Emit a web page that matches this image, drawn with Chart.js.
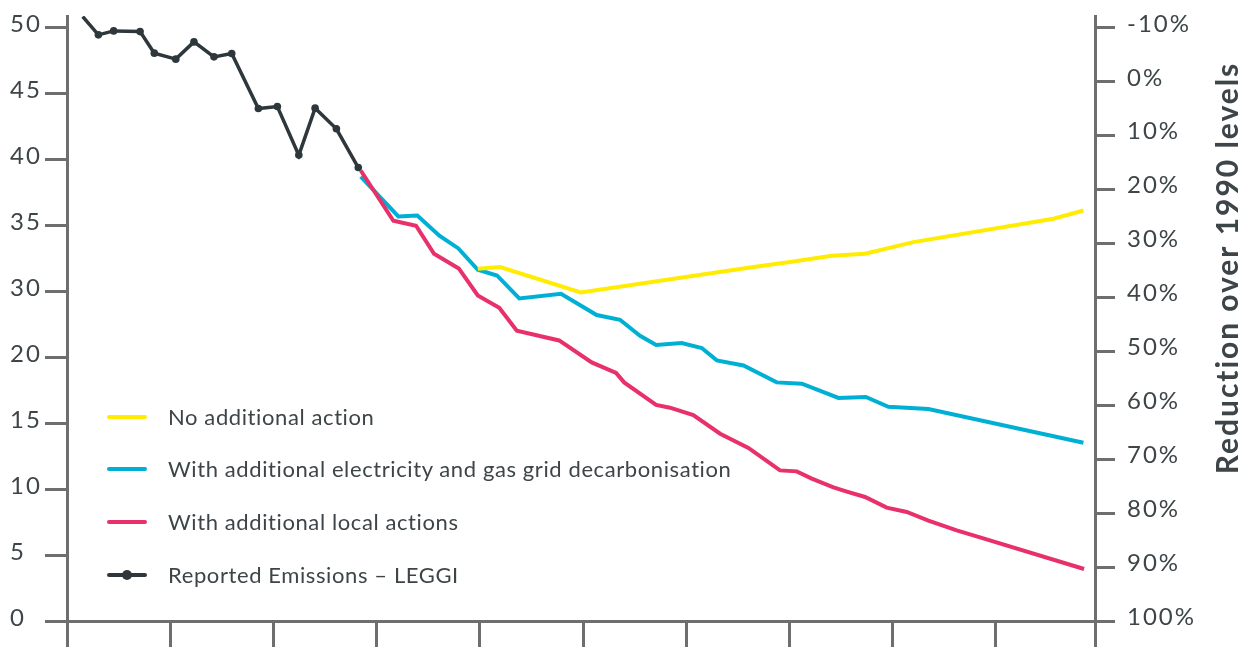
<!DOCTYPE html>
<html lang="en">
<head>
    <meta charset="UTF-8">
    <title>Emissions pathways</title>
    <script src="https://cdn.jsdelivr.net/npm/chart.js@4.4.1/dist/chart.umd.min.js"></script>
    <style>
        html, body { margin: 0; padding: 0; background: #fff; }
        #wrap { position: relative; width: 1251px; height: 647px; }
        #legend {
            position: absolute; left: 107px; top: 0;
            font-family: Lato, sans-serif; font-size: 22px; letter-spacing: 0.6px; color: #3d4548;
        }
        .item { position: absolute; left: 0; height: 30px; line-height: 30px; white-space: nowrap; }
        .swatch { position: absolute; left: 0; top: 13px; width: 40px; height: 4px; border-radius: 2px; }
        .dot { position: absolute; left: 15px; top: 10px; width: 10px; height: 10px; border-radius: 50%; }
        .label { position: absolute; left: 61px; top: 0; }
    </style>
</head>
<body>
<div id="wrap">
    <canvas id="myChart" width="1251" height="647"></canvas>
    <div id="legend"></div>
</div>

<script>
    // reported emissions, % reduction vs 1990
    var reportedYears = [2000.76, 2001.52, 2002.26, 2003.54, 2004.23, 2005.27, 2006.15, 2007.12, 2007.98, 2009.27, 2010.19, 2011.23, 2012.02, 2013.05, 2014.11];
    var reported = [-12.1, -8.7, -9.44, -9.31, -5.31, -4.2, -7.4, -4.62, -5.24, 4.96, 4.59, 13.6, 4.89, 8.72, 15.9];

    var noActionYears = [2019.9, 2020.98, 2024.89, 2033.09, 2035.03, 2037.05, 2038.66, 2041.0, 2047.79, 2049.24];
    var noAction = [34.68, 34.36, 39.07, 34.43, 33.43, 32.27, 31.89, 29.73, 25.41, 23.87];

    var gridYears = [2014.23, 2016.05, 2016.97, 2018.04, 2018.96, 2019.9, 2020.83, 2021.91, 2023.93, 2025.66, 2026.79, 2027.76, 2028.54, 2029.78, 2030.75, 2031.48, 2032.77, 2034.38, 2035.6, 2037.37, 2038.7, 2039.79, 2041.73, 2049.24];
    var gridDecarb = [17.57, 24.98, 24.8, 28.56, 30.91, 34.86, 35.92, 40.18, 39.31, 43.26, 44.13, 47.1, 48.82, 48.45, 49.38, 51.67, 52.6, 55.75, 55.99, 58.64, 58.46, 60.26, 60.68, 66.93];

    var localYears = [2014.23, 2015.81, 2016.91, 2017.78, 2018.98, 2019.9, 2020.94, 2021.79, 2023.84, 2025.42, 2026.6, 2026.99, 2028.54, 2029.21, 2030.34, 2031.64, 2033.01, 2034.54, 2035.35, 2036.08, 2037.13, 2037.78, 2038.66, 2039.71, 2040.68, 2041.73, 2043.1, 2044.23, 2049.27];
    var localActions = [16.45, 25.78, 26.7, 31.89, 34.62, 39.62, 41.9, 46.17, 47.97, 52.05, 54.01, 55.75, 59.94, 60.44, 61.8, 65.26, 67.91, 72.07, 72.25, 73.6, 75.22, 76.01, 77.0, 78.98, 79.78, 81.39, 83.19, 84.49, 90.35];

    var seriesNames = ['No additional action', 'With additional electricity and gas grid decarbonisation', 'With additional local actions', 'Reported Emissions \u2013 LEGGI'];
    var seriesColors = ['#ffec00', '#00b0d4', '#e8306b', '#2e383c'];

    var leftLabels = ['0', '5', '10', '15', '20', '30', '35', '40', '45', '50'];
    var rightTicks = [-10, 0, 10, 20, 30, 40, 50, 60, 70, 80, 90, 100];
    var xTicks = [2000, 2005, 2010, 2015, 2020, 2025, 2030, 2035, 2040, 2045, 2049.8];
    var rightTitle = 'Reduction over 1990 levels';

    var axisGray = '#6e6e6e';
    var textColor = '#3d4548';
    var tickFont = { family: 'Lato', size: 24 };

    function pts(xs, ys) {
        return xs.map(function (x, i) { return { x: x, y: ys[i] }; });
    }

    // legend drawn as html over the plot
    var legend = document.getElementById('legend');
    var legendTops = [416.5, 469.3, 522.3, 575];
    seriesNames.forEach(function (name, i) {
        var item = document.createElement('div');
        item.className = 'item';
        item.style.top = (legendTops[i] - 15) + 'px';
        var sw = '<div class="swatch" style="background:' + seriesColors[i] + '"></div>';
        if (i == 3) sw += '<div class="dot" style="background:' + seriesColors[i] + '"></div>';
        item.innerHTML = sw + '<div class="label"></div>';
        item.querySelector('.label').textContent = name;
        legend.appendChild(item);
    });

    // wider spacing on tick labels, and the rotated title on the right
    var textTweaks = {
        id: 'textTweaks',
        beforeDraw: function (chart) {
            chart.ctx.letterSpacing = '2px';
        },
        afterDraw: function (chart) {
            var ctx = chart.ctx;
            ctx.save();
            ctx.letterSpacing = '0px';
            ctx.font = '700 30px Lato';
            var w = ctx.measureText(rightTitle).width;
            var sp = (411 - w) / (rightTitle.length - 1);
            ctx.letterSpacing = sp + 'px';
            ctx.translate(chart.scales.y2.right - 23, 267 + sp / 2);
            ctx.rotate(-Math.PI / 2);
            ctx.fillStyle = textColor;
            ctx.textAlign = 'center';
            ctx.textBaseline = 'middle';
            ctx.fillText(rightTitle, 0, 0);
            ctx.restore();
            ctx.letterSpacing = '0px';
        }
    };

    function fixWidth(w) {
        return function (scale) {
            scale.width = w;
            scale.paddingTop = 0;
            scale.paddingBottom = 0;
        };
    }

    var ctx = document.getElementById('myChart').getContext('2d');
    var myChart = new Chart(ctx, {
        type: 'line',
        data: {
            datasets: [{
                label: seriesNames[3],
                data: pts(reportedYears, reported),
                borderColor: seriesColors[3],
                backgroundColor: seriesColors[3],
                borderWidth: 3.5,
                pointRadius: reported.map(function (v, i) { return i == 0 ? 0 : 3.8; }),
                pointBorderWidth: 0,
                yAxisID: 'y2'
            }, {
                label: seriesNames[2],
                data: pts(localYears, localActions),
                borderColor: seriesColors[2],
                borderWidth: 4,
                pointRadius: 0,
                yAxisID: 'y2'
            }, {
                label: seriesNames[0],
                data: pts(noActionYears, noAction),
                borderColor: seriesColors[0],
                borderWidth: 4,
                pointRadius: 0,
                yAxisID: 'y2'
            }, {
                label: seriesNames[1],
                data: pts(gridYears, gridDecarb),
                borderColor: seriesColors[1],
                borderWidth: 4,
                pointRadius: 0,
                yAxisID: 'y2'
            }]
        },
        options: {
            responsive: false,
            animation: false,
            devicePixelRatio: 1,
            layout: { padding: { left: 10, top: 16, right: 0, bottom: 0 } },
            plugins: { legend: { display: false }, tooltip: { enabled: false } },
            scales: {
                x: {
                    type: 'linear',
                    position: 'bottom',
                    min: 2000,
                    max: 2049.8,
                    afterBuildTicks: function (s) { s.ticks = xTicks.map(function (v) { return { value: v }; }); },
                    ticks: { display: false },
                    grid: { drawOnChartArea: false, tickLength: 26, color: axisGray, lineWidth: 3 },
                    border: { color: axisGray, width: 3 }
                },
                y: {
                    position: 'left',
                    min: 0,
                    max: 9.173,
                    afterBuildTicks: function (s) { s.ticks = leftLabels.map(function (v, i) { return { value: i }; }); },
                    afterFit: fixWidth(57),
                    ticks: {
                        callback: function (v) { return leftLabels[v]; },
                        crossAlign: 'far',
                        padding: 2,
                        labelOffset: -3,
                        color: textColor,
                        font: tickFont
                    },
                    grid: { drawOnChartArea: false, tickLength: 22, color: axisGray, lineWidth: 3 },
                    border: { color: axisGray, width: 3 }
                },
                y2: {
                    position: 'right',
                    reverse: true,
                    min: -12.2,
                    max: 100,
                    afterBuildTicks: function (s) { s.ticks = rightTicks.map(function (v) { return { value: v }; }); },
                    afterFit: fixWidth(156),
                    ticks: {
                        callback: function (v) { return v + '%'; },
                        padding: 12,
                        labelOffset: -4,
                        color: textColor,
                        font: tickFont
                    },
                    grid: { drawOnChartArea: false, tickLength: 20, color: axisGray, lineWidth: 3 },
                    border: { color: axisGray, width: 3 }
                }
            }
        },
        plugins: [textTweaks]
    });
</script>
</body>
</html>
